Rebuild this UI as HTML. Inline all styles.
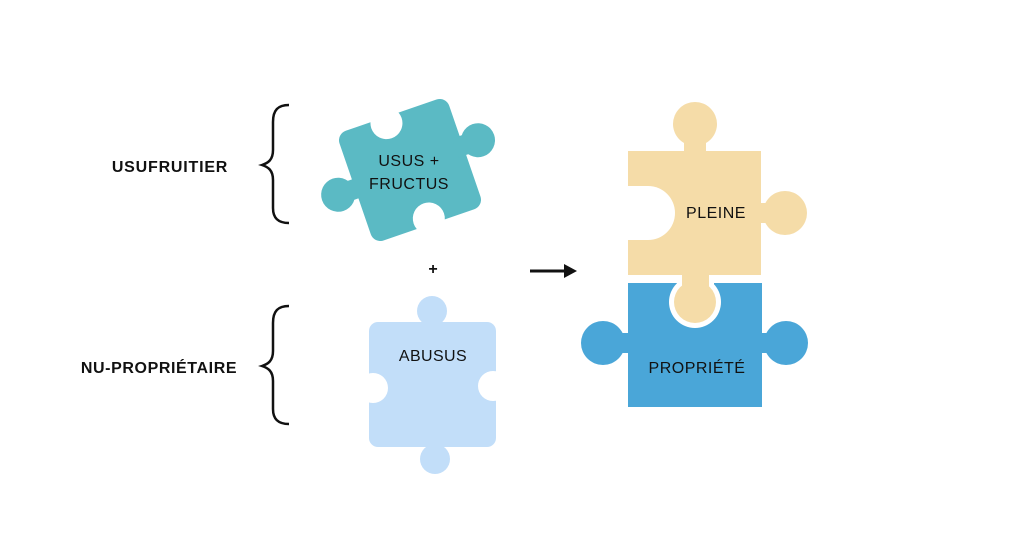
<!DOCTYPE html>
<html><head><meta charset="utf-8"><style>
html,body{margin:0;padding:0;background:#fff}
svg{display:block}
text{font-family:"Liberation Sans",sans-serif;fill:#111}
</style></head><body>
<svg width="1024" height="550" viewBox="0 0 1024 550">
<rect width="1024" height="550" fill="#fff"/>
<!-- labels -->
<text x="170" y="172" font-size="16" font-weight="bold" letter-spacing="0.8" text-anchor="middle">USUFRUITIER</text>
<text x="159" y="373" font-size="16" font-weight="bold" letter-spacing="0.6" text-anchor="middle">NU-PROPRIÉTAIRE</text>
<!-- braces -->
<path d="M289,105 C278,105 273,110 273,122 L273,150 C273,160 268,163 262,165 C268,167 273,170 273,180 L273,208 C273,218 278,223 289,223" fill="none" stroke="#111" stroke-width="2.5"/>
<path d="M289,306 C278,306 273,311 273,323 L273,351 C273,361 268,364 262,366 C268,368 273,371 273,381 L273,409 C273,419 278,424 289,424" fill="none" stroke="#111" stroke-width="2.5"/>
<!-- teal piece -->
<g transform="translate(410,170) rotate(-19)">
<rect x="-58" y="-58" width="116" height="116" rx="10" fill="#5bbac4"/>
<circle cx="74" cy="-6" r="17" fill="#5bbac4"/>
<rect x="50" y="-16" width="14" height="20" fill="#5bbac4"/>
<circle cx="-76" cy="0" r="17" fill="#5bbac4"/>
<rect x="-66" y="-10" width="14" height="20" fill="#5bbac4"/>
<circle cx="-7" cy="-52" r="16" fill="#fff"/>
<rect x="-16" y="-62" width="18" height="8" fill="#fff"/>
<circle cx="2" cy="52" r="16" fill="#fff"/>
<rect x="-7" y="54" width="18" height="8" fill="#fff"/>
</g>
<text x="409" y="166" font-size="16" letter-spacing="0.5" text-anchor="middle">USUS +</text>
<text x="409" y="189" font-size="16" letter-spacing="0.5" text-anchor="middle">FRUCTUS</text>
<!-- plus & arrow -->
<text x="433" y="274" font-size="16" font-weight="bold" text-anchor="middle">+</text>
<line x1="530" y1="271" x2="568" y2="271" stroke="#111" stroke-width="3"/>
<path d="M564,264 L577,271 L564,278 Z" fill="#111"/>
<!-- abusus piece -->
<rect x="369" y="322" width="127" height="125" rx="9" fill="#c2def9"/>
<circle cx="432" cy="311" r="15" fill="#c2def9"/>
<rect x="424" y="318" width="16" height="8" fill="#c2def9"/>
<circle cx="435" cy="459" r="15" fill="#c2def9"/>
<rect x="427" y="443" width="16" height="8" fill="#c2def9"/>
<circle cx="373" cy="388" r="15" fill="#fff"/>
<circle cx="493" cy="386" r="15" fill="#fff"/>
<text x="433" y="361" font-size="16" letter-spacing="0.4" text-anchor="middle">ABUSUS</text>
<!-- yellow piece -->
<rect x="628" y="151" width="133" height="124" fill="#f5dca8"/>
<circle cx="695" cy="124" r="22" fill="#f5dca8"/>
<rect x="684" y="135" width="22" height="18" fill="#f5dca8"/>
<circle cx="785" cy="213" r="22" fill="#f5dca8"/>
<rect x="758" y="203" width="12" height="20" fill="#f5dca8"/>
<circle cx="648" cy="213" r="27" fill="#fff"/>
<rect x="620" y="186" width="28" height="54" fill="#fff"/>
<!-- blue piece -->
<rect x="628" y="283" width="134" height="124" fill="#4aa6d8"/>
<circle cx="603" cy="343" r="22" fill="#4aa6d8"/>
<rect x="615" y="333" width="16" height="20" fill="#4aa6d8"/>
<circle cx="786" cy="343" r="22" fill="#4aa6d8"/>
<rect x="758" y="333" width="16" height="20" fill="#4aa6d8"/>
<!-- hole outline + yellow knob -->
<circle cx="695" cy="302" r="26" fill="#fff"/>
<rect x="677" y="283" width="37" height="16" fill="#fff"/>
<rect x="682" y="272" width="27" height="24" fill="#f5dca8"/>
<circle cx="695" cy="302" r="21" fill="#f5dca8"/>
<text x="716" y="218" font-size="16" letter-spacing="0.5" text-anchor="middle">PLEINE</text>
<text x="697" y="373" font-size="16" letter-spacing="0.5" text-anchor="middle">PROPRIÉTÉ</text>
</svg>
</body></html>
